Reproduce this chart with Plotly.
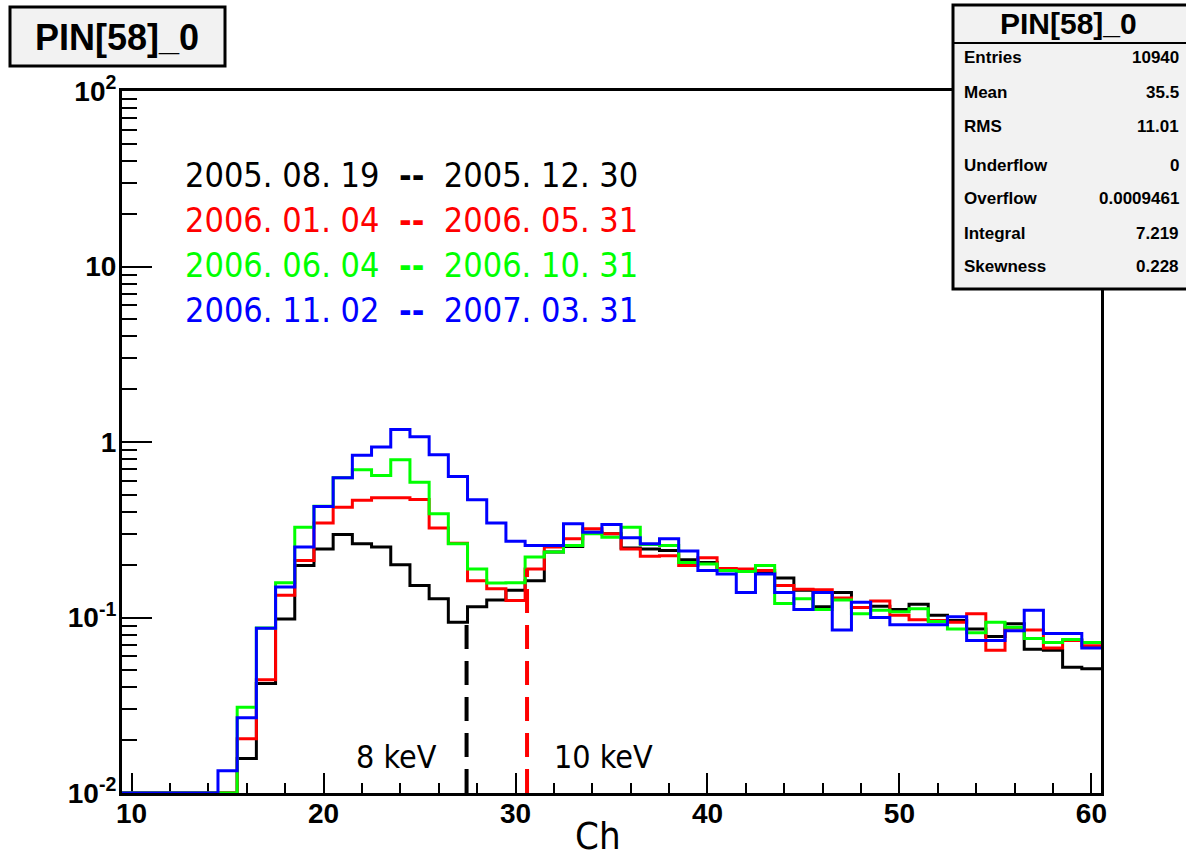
import plotly.graph_objects as go

# histogram contents, one bin per channel (bins centred on integers)
channels = list(range(10, 61))

black_05 = [0, 0, 0, 0, 0, 0,
            0.0157, 0.042, 0.098, 0.198, 0.246, 0.297, 0.263, 0.252, 0.20, 0.152,
            0.128, 0.094, 0.115, 0.126, 0.143, 0.162, 0.236, 0.254, 0.306, 0.30,
            0.249, 0.246, 0.241, 0.213, 0.206, 0.188, 0.185, 0.179, 0.168, 0.143,
            0.115, 0.139, 0.114, 0.116, 0.111, 0.119, 0.103, 0.096, 0.086, 0.078,
            0.092, 0.066, 0.065, 0.052, 0.051]
red_06a = [0, 0, 0, 0, 0, 0,
           0.0204, 0.0442, 0.134, 0.211, 0.345, 0.425, 0.465, 0.481, 0.481, 0.47,
           0.324, 0.265, 0.162, 0.146, 0.125, 0.189, 0.252, 0.281, 0.32, 0.30,
           0.246, 0.223, 0.225, 0.198, 0.219, 0.19, 0.189, 0.185, 0.152, 0.145,
           0.144, 0.129, 0.114, 0.124, 0.103, 0.097, 0.096, 0.094, 0.105, 0.065,
           0.087, 0.085, 0.067, 0.074, 0.069]
green_06b = [0, 0, 0, 0, 0, 0,
             0.0308, 0.087, 0.158, 0.327, 0.43, 0.626, 0.695, 0.645, 0.792, 0.59,
             0.39, 0.263, 0.189, 0.157, 0.158, 0.221, 0.236, 0.257, 0.30, 0.287,
             0.327, 0.261, 0.257, 0.206, 0.202, 0.185, 0.183, 0.198, 0.120, 0.128,
             0.111, 0.126, 0.105, 0.110, 0.108, 0.112, 0.095, 0.086, 0.082, 0.094,
             0.088, 0.076, 0.072, 0.075, 0.072]
blue_07 = [0, 0, 0, 0, 0, 0.0134,
           0.0268, 0.0868, 0.149, 0.252, 0.429, 0.626, 0.84, 0.935, 1.18, 1.07,
           0.846, 0.635, 0.469, 0.345, 0.272, 0.257, 0.257, 0.342, 0.306, 0.339,
           0.285, 0.263, 0.281, 0.239, 0.185, 0.177, 0.139, 0.177, 0.139, 0.111,
           0.139, 0.085, 0.122, 0.100, 0.091, 0.091, 0.091, 0.101, 0.074, 0.074,
           0.084, 0.110, 0.081, 0.081, 0.067]

periods = ["2005. 08. 19  <b>--</b>  2005. 12. 30",
           "2006. 01. 04  <b>--</b>  2006. 05. 31",
           "2006. 06. 04  <b>--</b>  2006. 10. 31",
           "2006. 11. 02  <b>--</b>  2007. 03. 31"]
colors = ["#000000", "#ff0000", "#00ff00", "#0000ff"]

# energy threshold markers
kev_text = ["8 keV", "10 keV"]
kev_ch = [27.45, 30.6]
kev_top = [0.095, 0.19]
kev_color = ["#000000", "#ff0000"]

stat_names = ["Entries", "Mean", "RMS", "Underflow", "Overflow", "Integral", "Skewness"]
stat_vals = ["10940", "35.5", "11.01", "0", "0.0009461", "7.219", "0.228"]

ymin = 0.01
W, H = 1186, 858
L, R, T, B = 122, 85, 91, 65
pw, ph = W - L - R, H - T - B

def px(x):
    return (x - L) / pw

def py(y):
    return (H - B - y) / ph

narrow = "DejaVu Sans Condensed, Liberation Sans Narrow, Arial Narrow, sans-serif"
helv = "Liberation Sans, Arial, Helvetica, sans-serif"

def label(x, y, text, size, color="black", family=narrow, xa="center"):
    return dict(x=px(x), y=py(y), xref="paper", yref="paper", text=text,
                showarrow=False, xanchor=xa, yanchor="middle",
                font=dict(family=family, size=size, color=color))

fig = go.Figure()

edges = [c - 0.5 for c in channels] + [channels[-1] + 0.5]
for vals, col in zip([black_05, red_06a, green_06b, blue_07], colors):
    ys = [max(v, ymin) for v in vals]
    fig.add_trace(go.Scatter(x=edges, y=ys + [ys[-1]], mode="lines",
                             line=dict(color=col, width=3, shape="hv"),
                             showlegend=False, hoverinfo="skip"))

for ch, top, col in zip(kev_ch, kev_top, kev_color):
    fig.add_trace(go.Scatter(x=[ch, ch], y=[ymin, top], mode="lines",
                             line=dict(color=col, width=4, dash="24px,12px"),
                             showlegend=False, hoverinfo="skip"))

ann = []
for i, (txt, col) in enumerate(zip(periods, colors)):
    ann.append(label(183, 175 + 45 * i, txt, 34, col, xa="left"))

ann.append(label(396, 757, kev_text[0], 32))
ann.append(label(603, 757, kev_text[1], 32))
ann.append(label(598, 836, "Ch", 38))

# title box
ann.append(label(117, 37, "<b>PIN[58]_0</b>", 36, family=helv))
# stats box
ann.append(label(1068, 23, "<b>PIN[58]_0</b>", 30, family=helv))
row_y = [58, 92, 126, 166, 198, 233, 266]
for name, val, yy in zip(stat_names, stat_vals, row_y):
    ann.append(label(962, yy, "<b>" + name + "</b>", 17, family=helv, xa="left"))
    ann.append(label(1181, yy, "<b>" + val + "</b>", 17, family=helv, xa="right"))

shapes = [
    dict(type="rect", xref="paper", yref="paper", x0=px(10), x1=px(225), y0=py(66), y1=py(7),
         fillcolor="#f2f2f2", line=dict(color="black", width=3), layer="above"),
    dict(type="rect", xref="paper", yref="paper", x0=px(953), x1=px(1195), y0=py(289), y1=py(5),
         fillcolor="#f2f2f2", line=dict(color="black", width=3), layer="above"),
    dict(type="line", xref="paper", yref="paper", x0=px(953), x1=px(1195), y0=py(43), y1=py(43),
         line=dict(color="black", width=2), layer="above"),
]

minor_y = [m * 10.0 ** e for e in range(-2, 2) for m in range(2, 10)]
minor_x = [v for v in range(10, 61, 2) if v % 10 != 0]

fig.update_layout(
    width=W, height=H,
    margin=dict(l=L, r=R, t=T, b=B),
    paper_bgcolor="white", plot_bgcolor="white",
    annotations=ann, shapes=shapes,
    xaxis=dict(range=[9.5, 60.5], showgrid=False, zeroline=False,
               showline=True, linecolor="black", linewidth=3, mirror=True,
               ticks="inside", ticklen=20, tickwidth=2, tickcolor="black",
               tickmode="array", tickvals=[10, 20, 30, 40, 50, 60],
               ticktext=["10", "20", "30", "40", "50", "60"],
               tickfont=dict(family=helv, size=28, color="black", weight="bold"),
               ticklabelstandoff=-7,
               minor=dict(ticks="inside", ticklen=10, tickwidth=2, tickcolor="black",
                          tickmode="array", tickvals=minor_x),
               layer="below traces"),
    yaxis=dict(type="log", range=[-2, 2], showgrid=False, zeroline=False,
               showline=True, linecolor="black", linewidth=3, mirror=True,
               ticks="inside", ticklen=30, tickwidth=2, tickcolor="black",
               tickmode="array", tickvals=[0.01, 0.1, 1, 10, 100],
               ticktext=["10<sup>-2</sup>", "10<sup>-1</sup>", "1", "10", "10<sup>2</sup>"],
               tickfont=dict(family=helv, size=28, color="black", weight="bold"),
               ticklabelstandoff=-3,
               minor=dict(ticks="inside", ticklen=15, tickwidth=2, tickcolor="black",
                          tickmode="array", tickvals=minor_y),
               layer="below traces"),
)

fig.write_html("out.html", config={"displayModeBar": False},
               post_script="document.body.style.margin='0px';")
